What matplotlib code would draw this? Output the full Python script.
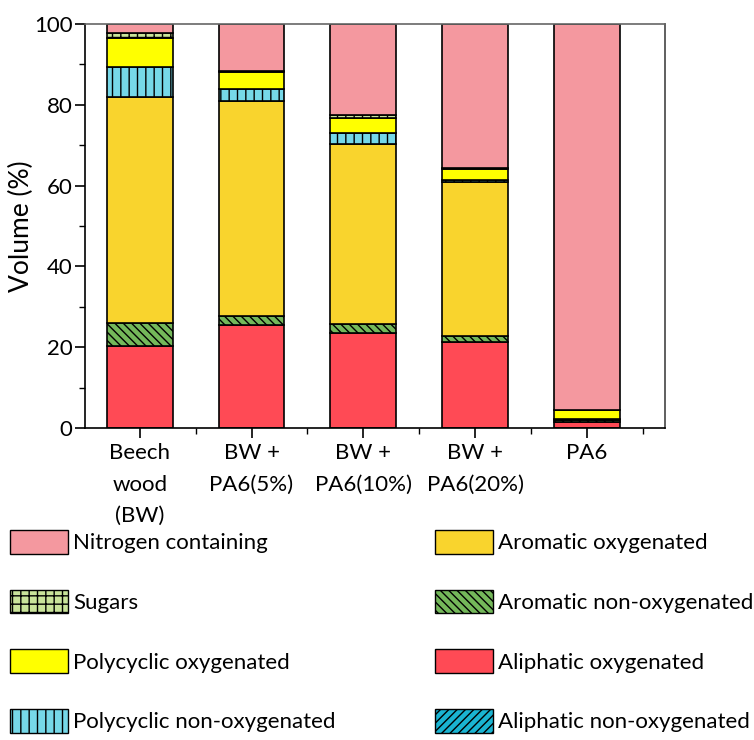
import matplotlib
matplotlib.use("Agg")
import matplotlib.pyplot as plt
from matplotlib.patches import Patch
from matplotlib.ticker import MultipleLocator, FixedLocator
import numpy as np

plt.rcParams['font.family'] = ['Lato', 'DejaVu Sans']
plt.rcParams['hatch.linewidth'] = 1.0

categories = ["Beech\nwood\n(BW)", "BW +\nPA6(5%)", "BW +\nPA6(10%)", "BW +\nPA6(20%)", "PA6"]

# stacking order bottom -> top
aliphatic_non_oxy = [0.0, 0.0, 0.0, 0.0, 0.0]
aliphatic_oxy     = [20.3, 25.5, 23.4, 21.3, 1.6]
aromatic_non_oxy  = [5.7, 2.3, 2.3, 1.5, 0.4]
aromatic_oxy      = [55.9, 53.1, 44.6, 38.0, 0.3]
polycyclic_non_oxy = [7.5, 2.9, 2.8, 0.6, 0.0]
polycyclic_oxy    = [7.1, 4.2, 3.6, 2.7, 2.2]
sugars            = [1.2, 0.4, 0.7, 0.3, 0.0]
nitrogen          = [2.3, 11.6, 22.6, 35.6, 95.5]

series = [
    ("Aliphatic non-oxygenated", aliphatic_non_oxy, "#1AB4D2", "////"),
    ("Aliphatic oxygenated", aliphatic_oxy, "#FF4A55", None),
    ("Aromatic non-oxygenated", aromatic_non_oxy, "#74B85A", "\\\\\\\\"),
    ("Aromatic oxygenated", aromatic_oxy, "#F9D42D", None),
    ("Polycyclic non-oxygenated", polycyclic_non_oxy, "#76D8E8", "||"),
    ("Polycyclic oxygenated", polycyclic_oxy, "#FFFF00", None),
    ("Sugars", sugars, "#C9E39A", "++"),
    ("Nitrogen containing", nitrogen, "#F4989F", None),
]

fig = plt.figure(figsize=(7.54, 7.40), dpi=100)
ax = fig.add_axes([85/754, 1-428/740, (665-85)/754, (428-24)/740])

x = np.arange(1, len(categories)+1)
bottom = np.zeros(len(categories))
handles = {}
for name, vals, col, hatch in series:
    v = np.array(vals)
    ax.bar(x, v, width=0.59, bottom=bottom, color=col, edgecolor='black',
           linewidth=1.2, hatch=hatch, zorder=2)
    bottom += v
    handles[name] = Patch(facecolor=col, edgecolor='black', linewidth=1.0, hatch=hatch, label=name)

ax.set_xlim(0.51, 5.70)
ax.set_ylim(0, 100)
ax.set_xticks(x)
ax.set_xticklabels(categories, fontsize=16, linespacing=1.72, va='top')
ax.xaxis.set_minor_locator(FixedLocator([1.5, 2.5, 3.5, 4.5, 5.5]))
ax.yaxis.set_major_locator(MultipleLocator(20))
ax.yaxis.set_minor_locator(MultipleLocator(10))
ax.tick_params(axis='both', which='major', direction='out', length=7, width=1.2, labelsize=16, pad=2)
ax.tick_params(axis='x', which='major', pad=4)
ax.tick_params(axis='both', which='minor', direction='out', length=4, width=1.0)
ax.set_ylabel("Volume (%)", fontsize=19)
ax.yaxis.set_label_coords(-0.088, 0.5)

for s in ['left', 'bottom']:
    ax.spines[s].set_color('black')
    ax.spines[s].set_linewidth(1.2)
ax.spines['top'].set_color('#666666')
ax.spines['top'].set_linewidth(1.2)
ax.spines['right'].set_color('#444444')
ax.spines['right'].set_linewidth(1.2)

col1 = ["Nitrogen containing", "Sugars", "Polycyclic oxygenated", "Polycyclic non-oxygenated"]
col2 = ["Aromatic oxygenated", "Aromatic non-oxygenated", "Aliphatic oxygenated", "Aliphatic non-oxygenated"]

common = dict(frameon=False, fontsize=16, handlelength=2.6, handleheight=1.26,
              handletextpad=0.25, labelspacing=1.62, borderpad=0, borderaxespad=0)
leg1 = fig.legend(handles=[handles[n] for n in col1], loc='upper left',
                  bbox_to_anchor=(10/754, 1-530/740), **common)
leg2 = fig.legend(handles=[handles[n] for n in col2], loc='upper left',
                  bbox_to_anchor=(435/754, 1-530/740), **common)

fig.savefig("out.png", dpi=100)
